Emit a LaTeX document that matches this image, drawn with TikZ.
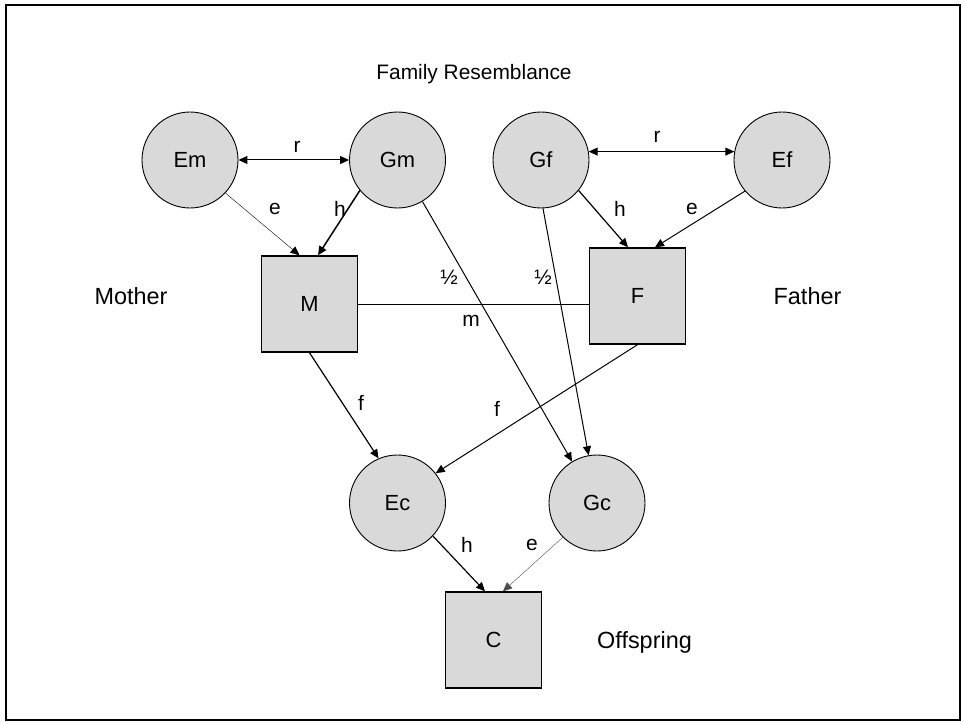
\documentclass[tikz,border=0pt]{standalone}
\usepackage{fontspec}
\setmainfont{Liberation Sans}
\usetikzlibrary{arrows.meta, positioning}
\definecolor{shade}{HTML}{D9D9D9}

\begin{document}
\begin{tikzpicture}[x=1bp, y=-1bp, line width=1bp, font=\fontsize{21}{25}\selectfont,
    latent/.style={circle, draw, fill=shade, minimum size=96bp, inner sep=0pt, line width=0.9bp,
      font=\fontsize{22}{26}\selectfont},
    observed/.style={rectangle, draw, fill=shade, minimum size=96bp, inner sep=0pt, line width=1.4bp,
      font=\fontsize{22}{26}\selectfont},
    side/.style={anchor=base, font=\fontsize{23.5}{28}\selectfont},
    arr/.style={-{Triangle[length=9bp, width=8bp]}},
    twoway/.style={{Triangle[length=9bp, width=8bp]}-{Triangle[length=9bp, width=8bp]}}]
    \useasboundingbox (0,0) rectangle (963,722);
    \draw[line width=2.5bp] (6,5) rectangle (960,720);
    % parents' sources
    \node[latent] (Em) at (190,160) {Em};
    \node[latent] (Gm) at (397.5,160) {Gm};
    \node[latent] (Gf) at (541,160) {Gf};
    \node[latent] (Ef) at (782,160) {Ef};
    \node[observed] (M) at (309.5,304) {M};
    \node[observed] (F) at (637.5,296) {F};
    % child
    \node[latent] (Ec) at (397.5,503) {Ec};
    \node[latent] (Gc) at (597,503) {Gc};
    \node[observed] (C) at (493.5,640) {C};
    % texts
    \node[anchor=base] (title) at (474,80) {Family Resemblance};
    \node[side] (mother) at (131,304) {Mother};
    \node[side] (father) at (807.5,304) {Father};
    \node[side] (offspring) at (644.5,648) {Offspring};
    % paths
    \draw[twoway] (Em.east) -- (Gm.west);
    \draw[twoway] (Gf.10) -- (Ef.170);
    \draw[arr, line width=0.4bp] (Em.-43) -- ([xshift=-10bp]M.north);
    \draw[arr, line width=1.5bp] (Gm.-141) -- ([xshift=8.5bp]M.north);
    \draw[arr, line width=1.2bp] (Gf.-39) -- ([xshift=-9.5bp]F.north);
    \draw[arr] (Ef.-140) -- ([xshift=17.5bp]F.north);
    \draw (M.east) -- (M.east -| F.west);
    \draw[arr, line width=1.2bp] (M.south) -- (Ec.113);
    \draw[arr] (F.south) -- (Ec.38);
    \draw[arr] (Gm.-59) -- (Gc.121);
    \draw[arr] ([xshift=2bp]Gf.south) -- (Gc.100);
    \draw[arr, line width=1.2bp] (Ec.-43) -- ([xshift=-8.5bp]C.north);
    \draw[arr, line width=0.4bp, black!70] (Gc.-135) -- ([xshift=9.5bp]C.north);
    % labels
    \node (rm) at (297,147) {r};
    \node (rf) at (657,137) {r};
    \node (em) at (275,209) {e};
    \node (hm) at (340,209) {h};
    \node (hf) at (620,209) {h};
    \node (ef) at (692,209) {e};
    \node (halfm) at (449,277) {½};
    \node (halff) at (543,277) {½};
    \node (mate) at (471,321) {m};
    \node (fm) at (361,403) {f};
    \node (ff) at (497,409) {f};
    \node (hc) at (467,545) {h};
    \node (ec) at (532,545) {e};
\end{tikzpicture}
\end{document}
